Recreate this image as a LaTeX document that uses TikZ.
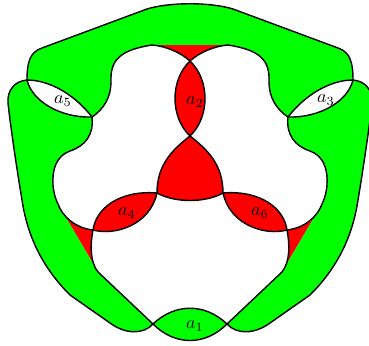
\documentclass[tikz,border=0pt]{standalone}
\definecolor{bandgreen}{RGB}{0,255,0}
\definecolor{diskred}{RGB}{255,0,0}
\begin{document}
\begin{tikzpicture}[x=1pt,y=-1pt,
  edge/.style={draw=black,line width=1.4pt,line join=round,line cap=round},
  band/.style={fill=bandgreen},
  disk/.style={fill=diskred},
  hole/.style={fill=white},
  lbl/.style={inner sep=0pt,scale=1.8}]
\useasboundingbox (0,0) rectangle (369,345);
% ---------- red regions ----------
\path[disk] (152,44) -- (228,44) -- (228,45) .. controls (215,46) and (200,52) .. (190,61) .. controls (180,52) and (165,46) .. (152,45) -- cycle;
\path[disk] (190,61) .. controls (170,80) and (170,117) .. (190,136) .. controls (210,117) and (210,80) .. (190,61) -- cycle;
\path[disk] (190,136) .. controls (172,150) and (157,165) .. (157,193) .. controls (175,203) and (205,203) .. (223,193) .. controls (223,165) and (208,150) .. (190,136) -- cycle;
\path[disk] (93,230) .. controls (96,208) and (120,190) .. (157,193) .. controls (150,225) and (115,236) .. (93,230) -- cycle;
\path[disk] (287,230) .. controls (284,208) and (260,190) .. (223,193) .. controls (230,225) and (265,236) .. (287,230) -- cycle;
\path[disk] (93,230) .. controls (75,228) and (62,216) .. (58,204) -- (98,272) .. controls (90,262) and (90,245) .. (93,230) -- cycle;
\path[disk] (287,230) .. controls (305,228) and (318,216) .. (322,204) -- (282,272) .. controls (290,262) and (290,245) .. (287,230) -- cycle;
% ---------- green bands ----------
% top band
\path[band] (27,80) .. controls (27,62) and (30,52) .. (42,48) -- (147,9) .. controls (170,2) and (210,2) .. (233,9) -- (338,48) .. controls (350,52) and (353,62) .. (353,80)
  .. controls (348,101) and (320,118) .. (288,117)
  .. controls (276,109) and (269,97) .. (269,82) .. controls (270,60) and (260,50) .. (228,45)
  -- (152,45)
  .. controls (120,50) and (110,60) .. (111,82) .. controls (111,97) and (104,109) .. (92,117)
  .. controls (60,118) and (32,101) .. (27,80) -- cycle;
% left band
\path[band] (27,80) .. controls (50,80) and (75,95) .. (92,117)
  .. controls (94,135) and (85,146) .. (70,151) .. controls (56,156) and (52,170) .. (53,185) .. controls (54,195) and (56,200) .. (58,204)
  -- (98,272) -- (153,324)
  .. controls (143,335) and (125,334) .. (110,323) -- (70,295)
  .. controls (45,270) and (28,240) .. (22,200) .. controls (17,170) and (11,130) .. (8,103) .. controls (7,90) and (15,81) .. (27,80) -- cycle;
% right band
\path[band] (353,80) .. controls (330,80) and (305,95) .. (288,117)
  .. controls (286,135) and (295,146) .. (310,151) .. controls (324,156) and (328,170) .. (327,185) .. controls (326,195) and (324,200) .. (322,204)
  -- (282,272) -- (227,324)
  .. controls (237,335) and (255,334) .. (270,323) -- (310,295)
  .. controls (335,270) and (352,240) .. (358,200) .. controls (363,170) and (369,130) .. (372,103) .. controls (373,90) and (365,81) .. (353,80) -- cycle;
% a1 lens
\path[band] (153,324) .. controls (175,303) and (205,303) .. (227,324) .. controls (205,346) and (175,346) .. (153,324) -- cycle;
% ---------- white lenses ----------
\path[hole] (27,80) .. controls (50,80) and (75,95) .. (92,117) .. controls (60,118) and (32,101) .. (27,80) -- cycle;
\path[hole] (353,80) .. controls (330,80) and (305,95) .. (288,117) .. controls (320,118) and (348,101) .. (353,80) -- cycle;
% ---------- black curves ----------
\draw[edge] (27,80) .. controls (27,62) and (30,52) .. (42,48) -- (147,9) .. controls (170,2) and (210,2) .. (233,9) -- (338,48) .. controls (350,52) and (353,62) .. (353,80);
\draw[edge] (27,80) .. controls (32,101) and (60,118) .. (92,117)
  .. controls (104,109) and (111,97) .. (111,82) .. controls (110,60) and (120,50) .. (152,45)
  .. controls (165,46) and (180,52) .. (190,61);
\draw[edge] (353,80) .. controls (348,101) and (320,118) .. (288,117)
  .. controls (276,109) and (269,97) .. (269,82) .. controls (270,60) and (260,50) .. (228,45)
  .. controls (215,46) and (200,52) .. (190,61);
\draw[edge] (190,61) .. controls (170,80) and (170,117) .. (190,136) .. controls (210,117) and (210,80) .. (190,61);
\draw[edge] (190,136) .. controls (172,150) and (157,165) .. (157,193) .. controls (175,203) and (205,203) .. (223,193) .. controls (223,165) and (208,150) .. (190,136);
\draw[edge] (93,230) .. controls (96,208) and (120,190) .. (157,193) .. controls (150,225) and (115,236) .. (93,230);
\draw[edge] (287,230) .. controls (284,208) and (260,190) .. (223,193) .. controls (230,225) and (265,236) .. (287,230);
\draw[edge] (27,80) .. controls (50,80) and (75,95) .. (92,117)
  .. controls (94,135) and (85,146) .. (70,151) .. controls (56,156) and (52,170) .. (53,185) .. controls (54,195) and (56,200) .. (58,204)
  .. controls (62,216) and (75,228) .. (93,230);
\draw[edge] (353,80) .. controls (330,80) and (305,95) .. (288,117)
  .. controls (286,135) and (295,146) .. (310,151) .. controls (324,156) and (328,170) .. (327,185) .. controls (326,195) and (324,200) .. (322,204)
  .. controls (318,216) and (305,228) .. (287,230);
\draw[edge] (93,230) .. controls (90,245) and (90,262) .. (98,272) -- (153,324);
\draw[edge] (287,230) .. controls (290,245) and (290,262) .. (282,272) -- (227,324);
\draw[edge] (27,80) .. controls (15,81) and (7,90) .. (8,103) .. controls (11,130) and (17,170) .. (22,200) .. controls (28,240) and (45,270) .. (70,295) -- (110,323) .. controls (125,334) and (143,335) .. (153,324);
\draw[edge] (353,80) .. controls (365,81) and (373,90) .. (372,103) .. controls (369,130) and (363,170) .. (358,200) .. controls (352,240) and (335,270) .. (310,295) -- (270,323) .. controls (255,334) and (237,335) .. (227,324);
\draw[edge] (153,324) .. controls (175,303) and (205,303) .. (227,324) .. controls (205,346) and (175,346) .. (153,324);
% ---------- labels ----------
\node[lbl] (l1) at (195,326) {$a_1$};
\node[lbl] (l2) at (195,102) {$a_2$};
\node[lbl] (l3) at (326,100) {$a_3$};
\node[lbl] (l4) at (127,213) {$a_4$};
\node[lbl] (l5) at (63,101) {$a_5$};
\node[lbl] (l6) at (260,213) {$a_6$};
\end{tikzpicture}
\end{document}
